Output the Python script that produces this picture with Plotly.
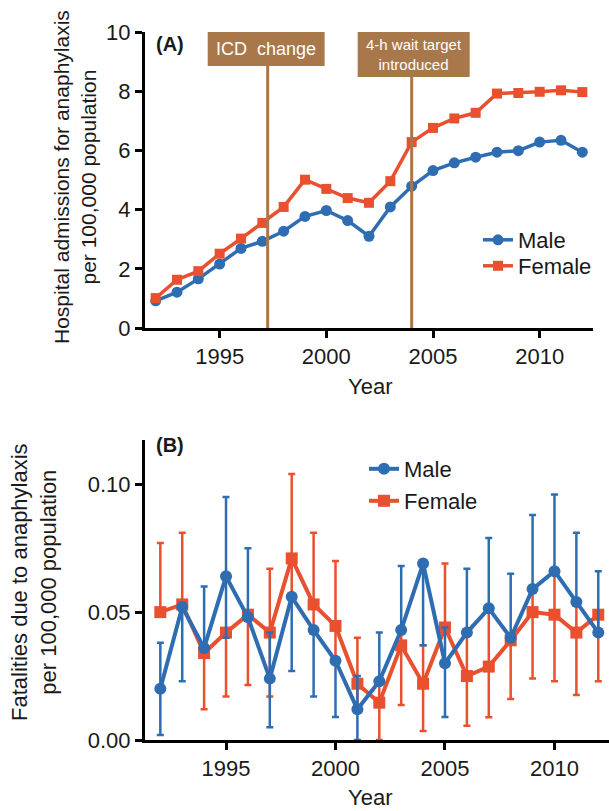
import plotly.graph_objects as go

# ---------------- data ----------------
years = list(range(1992, 2013))

# Panel A: hospital admissions per 100,000
adm_male = [0.92, 1.21, 1.66, 2.16, 2.69, 2.93, 3.27, 3.77, 3.97, 3.63, 3.10,
            4.09, 4.79, 5.32, 5.58, 5.77, 5.94, 5.99, 6.28, 6.34, 5.94]
adm_female = [1.01, 1.63, 1.92, 2.51, 3.02, 3.55, 4.09, 5.01, 4.70, 4.39, 4.23,
              4.96, 6.28, 6.76, 7.08, 7.27, 7.92, 7.94, 7.98, 8.03, 7.97]

# Events marked in panel A
event_years = [1997.25, 2004.0]
event_labels = ["ICD  change", "4-h wait target<br>introduced"]

# Panel B: fatalities per 100,000 with confidence limits (None = not drawn)
fat_male = [0.020, 0.052, 0.036, 0.064, 0.048, 0.024, 0.056, 0.043, 0.031, 0.012, 0.023,
            0.043, 0.069, 0.030, 0.042, 0.0515, 0.040, 0.059, 0.066, 0.054, 0.042]
fat_male_hi = [0.038, None, 0.060, 0.095, 0.075, 0.042, None, None, None, 0.025, 0.042,
               0.068, None, 0.044, 0.067, 0.079, 0.065, 0.088, 0.096, 0.081, 0.066]
fat_male_lo = [0.002, 0.023, None, 0.040, None, 0.005, 0.027, 0.017, 0.009, 0.0, None,
               None, 0.037, 0.009, None, None, None, None, None, None, None]

fat_female = [0.050, 0.053, 0.034, 0.042, 0.049, 0.042, 0.071, 0.053, 0.0446, 0.022, 0.0146,
              0.037, 0.022, 0.044, 0.025, 0.0287, 0.039, 0.050, 0.049, 0.042, 0.049]
fat_female_hi = [0.077, 0.081, None, None, None, 0.067, 0.104, 0.081, 0.070, 0.040, 0.023,
                 0.043, 0.037, 0.069, 0.042, 0.0515, None, 0.059, 0.066, 0.054, None]
fat_female_lo = [None, None, 0.012, 0.017, 0.0215, 0.017, 0.056, 0.043, 0.031, 0.012, 0.0,
                 0.0137, 0.0035, None, 0.0056, 0.0089, 0.016, 0.024, 0.023, 0.0176, 0.023]

# ---------------- styling ----------------
BLUE = "#2F6DB2"
RED = "#E8502F"
BROWN = "#A8774A"
FONT = "Arial, Liberation Sans, sans-serif"
TXT = "#1a1a1a"
W, H = 609, 811


def px_x(p):
    return p / W


def px_y(p):
    return 1 - p / H


def up(v, hi):
    return [0 if h is None else h - x for x, h in zip(v, hi)]


def down(v, lo):
    return [0 if l is None else x - l for x, l in zip(v, lo)]


fig = go.Figure()

# Panel A traces
fig.add_trace(go.Scatter(x=years, y=adm_male, name="Male", mode="lines+markers",
                         line=dict(color=BLUE, width=3.5),
                         marker=dict(symbol="circle", size=11, color=BLUE),
                         xaxis="x", yaxis="y", legend="legend"))
fig.add_trace(go.Scatter(x=years, y=adm_female, name="Female", mode="lines+markers",
                         line=dict(color=RED, width=3.5),
                         marker=dict(symbol="square", size=10, color=RED),
                         xaxis="x", yaxis="y", legend="legend2"))

# Panel B traces (female first so male sits on top)
fig.add_trace(go.Scatter(x=years, y=fat_female, name="Female", mode="lines+markers",
                         line=dict(color=RED, width=4),
                         marker=dict(symbol="square", size=12, color=RED),
                         error_y=dict(type="data", symmetric=False,
                                      array=up(fat_female, fat_female_hi),
                                      arrayminus=down(fat_female, fat_female_lo),
                                      color=RED, thickness=2.5, width=3.5),
                         xaxis="x2", yaxis="y2", legend="legend4"))
fig.add_trace(go.Scatter(x=years, y=fat_male, name="Male", mode="lines+markers",
                         line=dict(color=BLUE, width=4),
                         marker=dict(symbol="circle", size=12, color=BLUE),
                         error_y=dict(type="data", symmetric=False,
                                      array=up(fat_male, fat_male_hi),
                                      arrayminus=down(fat_male, fat_male_lo),
                                      color=BLUE, thickness=2.5, width=3.5),
                         xaxis="x2", yaxis="y2", legend="legend3"))

axis_common = dict(showline=True, linewidth=3, linecolor="black", ticks="outside",
                   ticklen=7, tickwidth=3, tickcolor="black", showgrid=False,
                   zeroline=False, automargin=False,
                   tickfont=dict(family=FONT, size=22, color=TXT))


def leg(x, y):
    return dict(x=px_x(x), y=px_y(y), xanchor="left", yanchor="middle",
                bgcolor="rgba(0,0,0,0)", font=dict(family=FONT, size=22, color=TXT),
                itemwidth=30)


fig.update_layout(
    width=W, height=H, autosize=False,
    margin=dict(l=0, r=0, t=0, b=0, pad=0, autoexpand=False),
    paper_bgcolor="white", plot_bgcolor="white",
    font=dict(family=FONT, color=TXT),
    xaxis=dict(domain=[px_x(145), px_x(593)], range=[1991.5, 2012.5],
               tickvals=[1995, 2000, 2005, 2010], anchor="y", **axis_common),
    yaxis=dict(domain=[px_y(328), px_y(32)], range=[0, 10],
               tickvals=[0, 2, 4, 6, 8, 10], anchor="x", **axis_common),
    xaxis2=dict(domain=[px_x(145), 1.0], range=[1991.3, 2012.49],
                tickvals=[1995, 2000, 2005, 2010], anchor="y2", **axis_common),
    yaxis2=dict(domain=[px_y(740), px_y(440)], range=[0, 0.1173],
                tickvals=[0, 0.05, 0.10], ticktext=["0.00", "0.05", "0.10"],
                anchor="x2", **axis_common),
    legend=leg(478, 240),
    legend2=leg(478, 266),
    legend3=leg(364, 469),
    legend4=leg(364, 501),
    showlegend=True,
)

# Event boxes and lines in panel A
box_specs = [
    dict(x0=1994.44, x1=1999.92, y0=8.85, y1=10.0, size=18),
    dict(x0=2001.47, x1=2006.72, y0=8.48, y1=10.0, size=15),
]
for ev, lab, b in zip(event_years, event_labels, box_specs):
    fig.add_shape(type="line", xref="x", yref="y", x0=ev, x1=ev, y0=0, y1=b["y0"],
                  line=dict(color=BROWN, width=3))
    fig.add_shape(type="rect", xref="x", yref="y", x0=b["x0"], x1=b["x1"],
                  y0=b["y0"], y1=b["y1"], fillcolor=BROWN, line=dict(width=0))
    fig.add_annotation(xref="x", yref="y", x=(b["x0"] + b["x1"]) / 2,
                       y=(b["y0"] + b["y1"]) / 2, text=lab, showarrow=False,
                       font=dict(family=FONT, size=b["size"], color="white"),
                       align="center")

# Panel labels, axis titles
ann = [
    dict(x=px_x(154), y=px_y(44), text="<b>(A)</b>", size=20, xanchor="left", angle=0),
    dict(x=px_x(154), y=px_y(445), text="<b>(B)</b>", size=20, xanchor="left", angle=0),
    dict(x=px_x(370), y=px_y(386), text="Year", size=22, xanchor="center", angle=0),
    dict(x=px_x(370), y=px_y(797), text="Year", size=22, xanchor="center", angle=0),
    dict(x=px_x(75), y=px_y(177),
         text="Hospital admissions for anaphylaxis<br>per 100,000 population",
         size=21, xanchor="center", angle=-90),
    dict(x=px_x(34), y=px_y(582),
         text="Fatalities due to anaphylaxis<br>per 100,000 population",
         size=22, xanchor="center", angle=-90),
]
for a in ann:
    fig.add_annotation(xref="paper", yref="paper", x=a["x"], y=a["y"], text=a["text"],
                       showarrow=False, xanchor=a["xanchor"], yanchor="middle",
                       textangle=a["angle"], align="center",
                       font=dict(family=FONT, size=a["size"], color=TXT))

fig.write_html("out.html", config={"displayModeBar": False},
               post_script="document.body.style.margin='0';document.body.style.overflow='hidden';")
